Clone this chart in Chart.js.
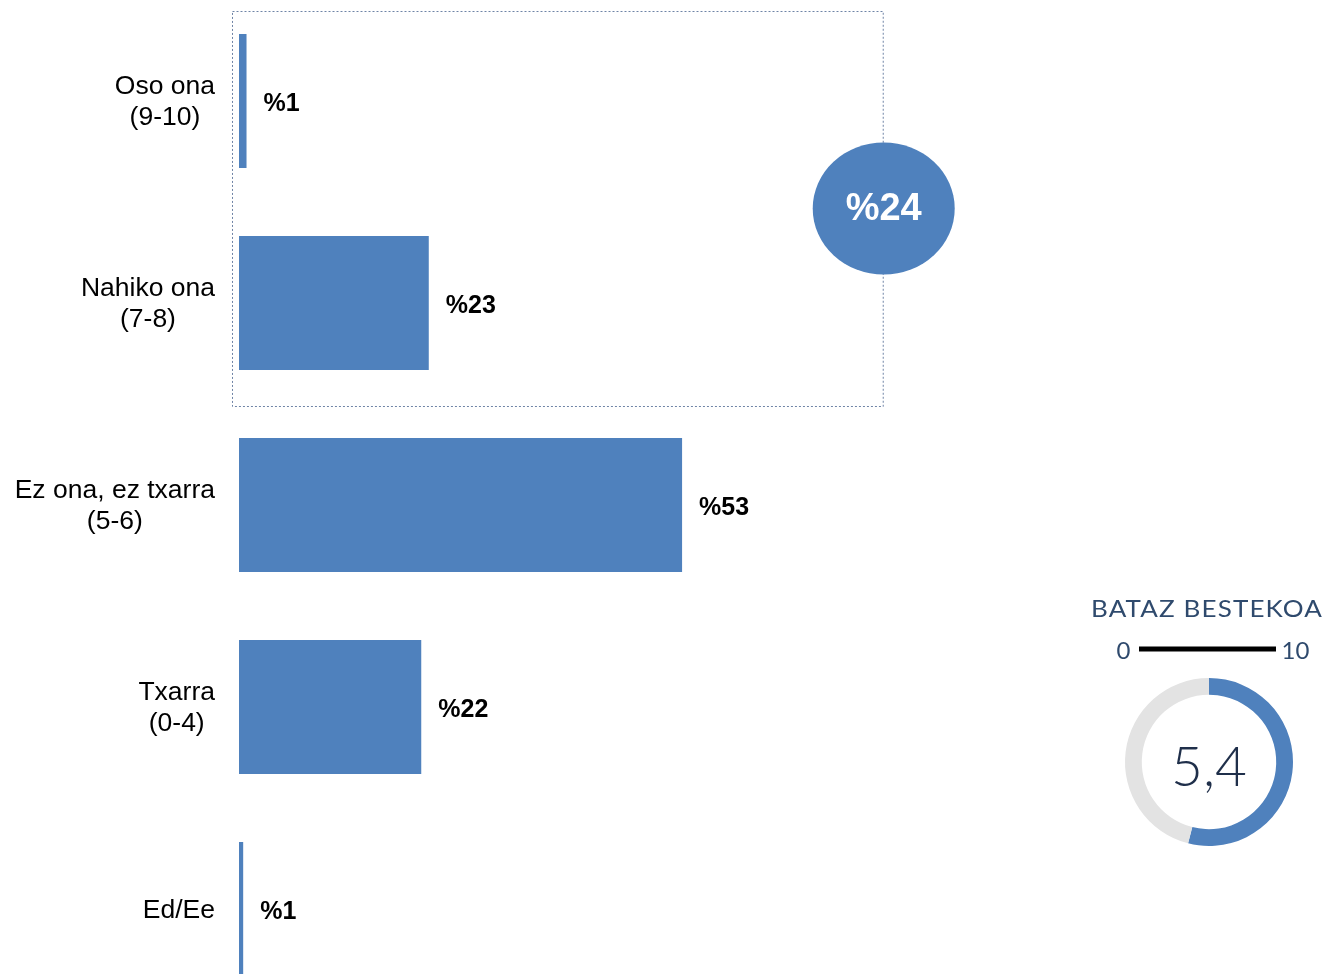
<!DOCTYPE html>
<html><head><meta charset="utf-8">
<script src="https://cdn.jsdelivr.net/npm/chart.js@4.4.0/dist/chart.umd.min.js"></script>
<style>
html,body{margin:0;padding:0;background:#fff;overflow:hidden;width:1329px;height:974px;}
#main{position:absolute;left:0;top:0;}
#avg{position:absolute;left:1080px;top:580px;}
</style></head><body>
<canvas id="main" width="1329" height="1010"></canvas>
<canvas id="avg" width="249" height="280"></canvas>
<script>
// ---- data ----
const categories = [['Oso ona','(9-10)'],['Nahiko ona','(7-8)'],['Ez ona, ez txarra','(5-6)'],['Txarra','(0-4)'],['Ed/Ee']];
const percentages = [0.9, 22.7, 53, 21.8, 0.5];
const groupedCategories = [0, 1];
const averageTitle = 'BATAZ BESTEKOA';
const scaleMin = 0;
const scaleMax = 10;
const averageScore = 5.4;

const BLUE = '#4F81BD';
const LABEL_FONT = "'Liberation Sans', Arial, sans-serif";

const mainPlugin = {
  id: 'mainDecor',
  beforeDatasetsDraw(chart) {
    const ctx = chart.ctx;
    const y = chart.scales.y, x = chart.scales.x;
    ctx.save();
    ctx.fillStyle = '#000';
    ctx.font = '26.5px ' + LABEL_FONT;
    ctx.textBaseline = 'middle';
    ctx.textAlign = 'center';
    const lh = 31;
    categories.forEach((lines, i) => {
      const cy = y.getPixelForValue(i) + 1.5;
      const w = Math.max(...lines.map(l => ctx.measureText(l).width));
      const cx = chart.chartArea.left - 24 - w / 2;
      const y0 = cy - (lines.length - 1) * lh / 2;
      lines.forEach((l, j) => ctx.fillText(l, cx, y0 + j * lh));
    });
    const yTop = y.getPixelForValue(groupedCategories[0]) - 90;
    const yBot = y.getPixelForValue(groupedCategories[groupedCategories.length - 1]) + 103;
    const xL = chart.chartArea.left - 7;
    const xR = x.getPixelForValue(77);
    ctx.strokeStyle = '#6F84A6';
    ctx.lineWidth = 1;
    ctx.setLineDash([2, 2]);
    ctx.strokeRect(xL + 0.5, yTop + 0.5, xR - xL, yBot - yTop);
    ctx.setLineDash([]);
    const total = groupedCategories.reduce((s, i) => s + percentages[i], 0);
    const ey = (yTop + yBot) / 2;
    ctx.fillStyle = BLUE;
    ctx.beginPath();
    ctx.ellipse(xR + 1, ey, 71, 66, 0, 0, Math.PI * 2);
    ctx.fill();
    ctx.fillStyle = '#fff';
    ctx.font = 'bold 38px ' + LABEL_FONT;
    ctx.textAlign = 'center';
    ctx.textBaseline = 'middle';
    ctx.fillText('%' + Math.round(total), xR + 1, ey + 1);
    ctx.restore();
  },
  afterDatasetsDraw(chart) {
    const ctx = chart.ctx;
    const meta = chart.getDatasetMeta(0);
    ctx.save();
    ctx.fillStyle = '#000';
    ctx.font = 'bold 25px ' + LABEL_FONT;
    ctx.textAlign = 'left';
    ctx.textBaseline = 'middle';
    meta.data.forEach((el, i) => {
      ctx.fillText('%' + Math.round(percentages[i]), el.x + 17, el.y + 3.5);
    });
    ctx.restore();
  }
};

new Chart(document.getElementById('main'), {
  type: 'bar',
  data: {
    labels: categories,
    datasets: [{
      data: percentages,
      backgroundColor: BLUE,
      borderWidth: 0,
      barPercentage: 0.663,
      categoryPercentage: 1
    }]
  },
  options: {
    indexAxis: 'y',
    responsive: false,
    devicePixelRatio: 1,
    animation: false,
    layout: { padding: { left: 239, right: 254, top: 0, bottom: 0 } },
    scales: {
      x: { display: false, min: 0, max: 100 },
      y: { display: false }
    },
    plugins: { legend: { display: false }, tooltip: { enabled: false } }
  },
  plugins: [mainPlugin]
});

const TITLE_COLOR = '#2F4A6D';
const avgPlugin = {
  id: 'avgDecor',
  afterDraw(chart) {
    const ctx = chart.ctx;
    ctx.save();
    ctx.fillStyle = TITLE_COLOR;
    ctx.textBaseline = 'alphabetic';
    ctx.font = '23px Lato, sans-serif';
    ctx.letterSpacing = '1px';
    const natural = ctx.measureText(averageTitle).width;
    const target = 232;
    const sx = target / natural;
    ctx.save();
    ctx.translate(127 - target / 2, 37);
    ctx.scale(sx, 1);
    ctx.textAlign = 'left';
    ctx.fillText(averageTitle, 0, 0);
    ctx.restore();
    ctx.letterSpacing = '0px';
    ctx.textAlign = 'center';
    ctx.font = '24px Lato, sans-serif';
    ctx.fillText(String(scaleMin), 43.5, 79);
    ctx.fillText(String(scaleMax), 215.5, 79);
    ctx.strokeStyle = '#000';
    ctx.lineWidth = 5;
    ctx.beginPath();
    ctx.moveTo(59, 69);
    ctx.lineTo(196, 69);
    ctx.stroke();
    const a = chart.getDatasetMeta(0).data[0];
    ctx.fillStyle = '#1F2F4A';
    ctx.font = '300 55px Lato, sans-serif';
    ctx.fillText(String(averageScore).replace('.', ','), a.x, a.y + 24);
    ctx.restore();
  }
};

new Chart(document.getElementById('avg'), {
  type: 'doughnut',
  data: {
    labels: ['score', 'rest'],
    datasets: [{
      data: [averageScore - scaleMin, scaleMax - averageScore],
      backgroundColor: [BLUE, '#E3E3E3'],
      borderWidth: 0,
      hoverOffset: 0
    }]
  },
  options: {
    responsive: false,
    devicePixelRatio: 1,
    animation: false,
    cutout: '80%',
    layout: { padding: { left: 45, right: 36, top: 98, bottom: 14 } },
    plugins: { legend: { display: false }, tooltip: { enabled: false } }
  },
  plugins: [avgPlugin]
});
</script>
</body></html>
